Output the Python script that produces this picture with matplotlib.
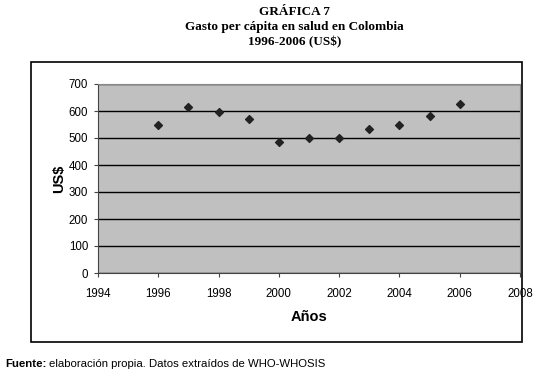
import matplotlib.pyplot as plt
from matplotlib.patches import Rectangle

# data
years = [1996, 1997, 1998, 1999, 2000, 2001, 2002, 2003, 2004, 2005, 2006]
gasto = [548, 615, 598, 570, 484, 500, 500, 532, 548, 583, 626]
x_ticks = [1994, 1996, 1998, 2000, 2002, 2004, 2006, 2008]
y_ticks = [0, 100, 200, 300, 400, 500, 600, 700]

plt.rcParams['font.family'] = ['Liberation Sans', 'DejaVu Sans']

fig = plt.figure(figsize=(5.51, 3.74), dpi=100)
fig.patch.set_facecolor('white')

# outer chart frame
fig.patches.append(Rectangle((31 / 551, 1 - 342 / 374), 491 / 551, 280 / 374,
                             transform=fig.transFigure, fill=False,
                             edgecolor='black', linewidth=1.2))

ax = fig.add_axes([98 / 551, 1 - 273 / 374, 422 / 551, 189 / 374])
ax.set_facecolor('#c0c0c0')
ax.scatter(years, gasto, marker='D', s=16, color='#222222', zorder=3)

ax.set_xlim(1994, 2008)
ax.set_ylim(0, 700)
ax.set_xticks(x_ticks)
ax.set_yticks(y_ticks)
ax.tick_params(labelsize=8.3, length=3, color='#444444')
ax.tick_params(axis='x', pad=8)
ax.tick_params(axis='y', pad=4)
ax.yaxis.grid(True, color='black', linewidth=1)
ax.set_axisbelow(True)
for s in ['top', 'right']:
    ax.spines[s].set_color('#888888')
for s in ['left', 'bottom']:
    ax.spines[s].set_color('#444444')

ax.set_ylabel('US\\$', fontsize=10.5, fontweight='bold', labelpad=2)
ax.set_xlabel('Años', fontsize=10.5, fontweight='bold', labelpad=7)

# title
serif = ['Liberation Serif', 'DejaVu Serif']
for yy, txt in [(12, 'GRÁFICA 7'),
                (27, 'Gasto per cápita en salud en Colombia'),
                (42, '1996-2006 (US\\$)')]:
    fig.text(0.535, 1 - yy / 374, txt, ha='center', va='center',
             fontsize=9.5, fontweight='bold', family=serif)

# source note
t = fig.text(5 / 551, 1 - 364 / 374, 'Fuente:', ha='left', va='center',
             fontsize=8.2, fontweight='bold')
fig.canvas.draw()
bb = t.get_window_extent()
fig.text((bb.x1 + 3) / fig.bbox.width, 1 - 364 / 374,
         'elaboración propia. Datos extraídos de WHO-WHOSIS',
         ha='left', va='center', fontsize=8.2)

fig.savefig('out.png', dpi=100)
